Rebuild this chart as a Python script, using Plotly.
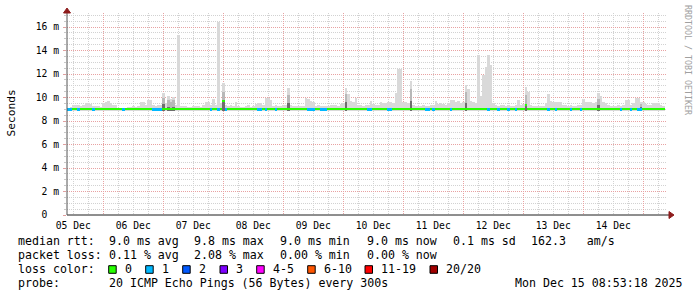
import pandas as pd
import plotly.graph_objects as go

# ---------------- data ----------------
START = "2025-12-05 09:29"          # first hourly step of the graph
STEP_MS = 3600000                    # one RRA step = 1 hour

# top of the smoke (slowest ping) per hourly step, in ms
smoke_max = [
    9.15, 9.2, 9.4, 9.4, 9.35, 9.3, 9.4, 9.5, 9.5, 9.45,
    9.3, 9.3, 9.25, 9.2, 9.5, 9.6, 9.7, 9.5, 9.35, 9.35,
    9.1, 9.15, 9.1, 9.1, 9.2, 9.2, 9.25, 9.2, 9.3, 9.65,
    9.6, 9.4, 9.8, 9.75, 9.35, 9.3, 9.35, 9.4, 10.4, 9.5,
    10.1, 9.9, 10.05, 9.4, 15.3, 9.3, 9.3, 9.25, 9.2, 9.2,
    9.3, 9.25, 9.3, 9.2, 9.35, 9.65, 9.6, 9.4, 9.85, 9.4,
    16.4, 9.5, 11.2, 9.4, 9.3, 9.35, 9.3, 9.6, 9.3, 9.2,
    9.2, 9.3, 9.35, 9.2, 9.3, 9.45, 9.5, 9.55, 9.4, 10.0,
    10.0, 9.8, 9.3, 9.35, 9.3, 9.3, 9.35, 9.4, 10.8, 9.35,
    9.3, 9.3, 9.25, 9.3, 9.3, 10.0, 9.9, 9.7, 9.65, 9.3,
    9.35, 9.3, 9.25, 9.3, 9.3, 9.35, 9.4, 9.35, 9.3, 9.45,
    9.5, 10.8, 10.3, 9.7, 9.6, 10.0, 9.4, 9.35, 9.3, 9.35,
    9.4, 9.7, 9.45, 9.4, 9.4, 9.6, 9.55, 9.5, 9.6, 9.6,
    9.55, 10.4, 12.45, 12.45, 9.6, 9.6, 9.5, 11.45, 9.4, 9.3,
    9.3, 9.3, 9.35, 9.3, 9.3, 9.35, 9.4, 9.7, 9.45, 9.5,
    9.45, 9.4, 9.5, 9.8, 9.8, 9.65, 9.7, 9.5, 9.6, 11.05,
    10.7, 9.7, 9.6, 9.5, 13.6, 10.1, 11.9, 12.6, 13.6, 12.8,
    9.5, 9.35, 9.3, 9.35, 9.4, 9.3, 9.35, 9.3, 9.3, 9.35,
    9.8, 9.4, 9.45, 10.9, 10.5, 9.35, 9.3, 9.3, 9.25, 9.3,
    9.3, 9.5, 10.3, 9.7, 9.65, 9.65, 9.6, 9.6, 9.4, 9.35,
    9.3, 9.35, 9.3, 9.3, 9.35, 9.4, 9.9, 9.65, 9.6, 9.6,
    9.55, 9.6, 10.4, 10.1, 9.6, 9.55, 9.35, 9.3, 9.3, 9.3,
    9.35, 9.3, 9.4, 9.8, 9.75, 9.4, 9.5, 10.0, 9.95, 9.65,
    9.6, 9.45, 9.4, 9.4, 9.5, 9.55, 9.5, 9.35, 9.3,
]

# median rtt per hourly step, in ms
median_rtt = [
    8.98, 8.98, 9.0, 9.05, 8.98, 9.05, 9.05, 9.0, 9.0, 9.0,
    8.98, 9.0, 9.0, 9.0, 9.05, 9.05, 9.0, 9.0, 9.0, 9.0,
    9.0, 9.0, 8.98, 9.0, 9.0, 9.0, 9.0, 9.0, 9.0, 9.05,
    9.05, 9.05, 9.0, 9.0, 8.98, 8.98, 8.98, 8.98, 9.0, 9.0,
    9.0, 9.0, 9.05, 9.05, 9.0, 9.0, 9.05, 9.05, 9.0, 9.0,
    9.0, 9.0, 9.0, 9.0, 9.0, 9.0, 9.05, 8.98, 9.05, 9.0,
    8.98, 9.05, 9.7, 8.98, 9.05, 9.05, 9.0, 9.0, 9.0, 9.0,
    9.0, 9.0, 9.0, 9.0, 9.0, 9.0, 8.98, 8.98, 9.05, 8.98,
    9.05, 9.0, 9.0, 8.98, 9.0, 9.0, 9.0, 9.05, 9.0, 9.0,
    9.0, 9.0, 9.0, 9.05, 9.0, 9.0, 8.98, 8.98, 8.98, 9.0,
    9.0, 8.98, 8.98, 8.98, 9.0, 9.0, 9.0, 9.0, 9.05, 9.0,
    9.0, 9.05, 9.05, 9.0, 9.0, 9.0, 9.0, 9.05, 9.0, 9.0,
    8.98, 8.98, 9.0, 9.0, 9.0, 9.05, 9.05, 9.0, 8.98, 8.98,
    9.0, 9.0, 9.05, 9.05, 9.0, 9.05, 9.0, 9.05, 9.0, 9.0,
    9.0, 9.0, 9.0, 8.98, 8.98, 9.0, 8.98, 9.0, 9.0, 9.0,
    9.0, 9.0, 9.0, 8.98, 9.0, 9.0, 9.0, 9.0, 9.05, 9.05,
    9.05, 9.0, 9.0, 9.0, 9.0, 9.0, 9.05, 9.0, 8.98, 9.0,
    9.0, 9.0, 8.98, 9.0, 9.0, 9.0, 8.98, 9.0, 9.0, 8.98,
    9.0, 9.0, 9.0, 9.35, 9.05, 9.0, 9.0, 9.0, 9.0, 9.0,
    9.0, 9.0, 8.98, 9.0, 9.0, 8.98, 9.0, 9.0, 9.0, 9.0,
    9.0, 8.98, 9.0, 9.0, 9.0, 8.98, 9.0, 9.0, 9.05, 9.05,
    9.0, 9.0, 9.05, 9.05, 9.0, 9.0, 9.0, 9.0, 9.0, 9.0,
    9.0, 8.98, 9.0, 9.05, 9.05, 8.98, 9.0, 9.0, 8.98, 8.98,
    9.0, 9.0, 9.0, 9.05, 9.05, 9.0, 9.0, 9.0, 9.0,
]

SMOKE_MIN = 8.86                     # fastest ping (hidden under the median line)

# steps where one ping in twenty was lost (loss colour "1")
loss1_idx = [0, 1, 4, 10, 22, 34, 35, 36, 37, 57, 60, 63, 76, 77, 79, 83,
             96, 97, 98, 101, 102, 103, 120, 121, 128, 129, 143, 144, 146,
             153, 168, 172, 176, 179, 192, 195, 201, 205, 221, 225, 228, 229]

# steps with denser (darker) smoke: top of medium and of dark layers, ms
dark_idx = [38, 40, 41, 42, 62, 88, 111, 137, 159, 183, 212, 229]
dark_mid = [10.0, 9.8, 9.6, 9.8, 10.5, 10.2, 10.3, 10.7, 10.5, 10.2, 9.9, 9.45]
dark_core = [9.45, 9.2, 9.15, 9.2, 9.75, 9.5, 9.6, 9.7, 9.5, 9.35, 9.35, 9.2]

y_tickvals = [0, 2, 4, 6, 8, 10, 12, 14, 16]
y_ticktext = ["0\u00a0\u00a0", "2 m", "4 m", "6 m", "8 m", "10 m", "12 m", "14 m", "16 m"]

loss_labels = ["0", "1", "2", "3", "4-5", "6-10", "11-19", "20/20"]
loss_colors = ["#26ff00", "#00b8ff", "#0059ff", "#7e00ff", "#ff00ff",
               "#ff5500", "#ff0000", "#a10000"]

rtt_label = "median rtt:"
rtt_stats = ["9.0 ms avg", "9.8 ms max", "9.0 ms min", "9.0 ms now", "0.1 ms sd", "162.3   am/s"]
loss_label = "packet loss:"
loss_stats = ["0.11 % avg", "2.08 % max", "0.00 % min", "0.00 % now"]
probe_text = "20 ICMP Echo Pings (56 Bytes) every 300s"
stamp_text = "Mon Dec 15 08:53:18 2025"
credit_text = "RRDTOOL / TOBI OETIKER"

# ---------------- figure ----------------
n = len(smoke_max)
times = pd.date_range(START, periods=n + 1, freq="h")
t_end = times[0] + pd.Timedelta(hours=240)
centers_all = [t + pd.Timedelta(minutes=30) for t in times[:n]]
loss = [1 if i in loss1_idx else 0 for i in range(n)]

L, T, PW, PH = 67, 13, 600, 202
W, H = 697, 297
MONO = "DejaVu Sans Mono"
LINE_H = 0.2                         # median line thickness in ms (~2.3 px)
SMOKE_LIGHT, SMOKE_MID, SMOKE_DARK = "#d9d9d9", "#b8b8b8", "#6e6e6e"

fig = go.Figure()

# light smoke (min .. max), all layers as bars so they stack in trace order
fig.add_trace(go.Bar(x=centers_all, y=[v - SMOKE_MIN for v in smoke_max], base=SMOKE_MIN,
                     width=STEP_MS, marker=dict(color=SMOKE_LIGHT, line=dict(width=0))))

centers = [centers_all[i] for i in dark_idx]
fig.add_trace(go.Bar(x=centers, y=[v - SMOKE_MIN for v in dark_mid], base=SMOKE_MIN,
                     width=STEP_MS, marker=dict(color=SMOKE_MID, line=dict(width=0))))
fig.add_trace(go.Bar(x=centers, y=[v - SMOKE_MIN for v in dark_core], base=SMOKE_MIN,
                     width=STEP_MS, marker=dict(color=SMOKE_DARK, line=dict(width=0))))

# median line, coloured by loss
fig.add_trace(go.Bar(x=centers_all, y=[LINE_H] * n, base=[m - LINE_H / 2 for m in median_rtt],
                     width=STEP_MS,
                     marker=dict(color=[loss_colors[l] for l in loss], line=dict(width=0))))

GRID_DASH = "1px,1px"
fig.update_layout(
    width=W, height=H, margin=dict(l=L, r=W - L - PW, t=T, b=H - T - PH),
    paper_bgcolor="white", plot_bgcolor="white", showlegend=False,
    barmode="overlay", bargap=0, hovermode=False,
    xaxis=dict(type="date", range=[times[0], t_end], dtick=86400000, tick0="2025-12-05",
               tickformat="%d %b", ticklabelmode="period", showgrid=True,
               gridcolor="#e8a2a2", griddash=GRID_DASH, gridwidth=1,
               minor=dict(dtick=21600000, tick0="2025-12-05", showgrid=True,
                          gridcolor="#d2d2d2", griddash=GRID_DASH),
               showline=False, zeroline=False, ticks="", ticklabelstandoff=3,
               tickfont=dict(family=MONO, size=9.7, color="black")),
    yaxis=dict(range=[0, 17.2], tickmode="array", tickvals=y_tickvals, ticktext=y_ticktext,
               showgrid=True, gridcolor="#e8a2a2", griddash=GRID_DASH, gridwidth=1,
               minor=dict(tickmode="linear", tick0=0, dtick=0.5, showgrid=True,
                          gridcolor="#d2d2d2", griddash=GRID_DASH,
                          ticks="outside", ticklen=2, tickcolor="#c8c8c8"),
               ticks="outside", ticklen=3, tickcolor="#e0a0a0",
               showline=False, zeroline=False, ticklabelstandoff=2,
               tickfont=dict(family=MONO, size=9.7, color="black")),
)

def px(x):
    return (x - L) / PW

def py(y):
    return (T + PH - y) / PH

# axis lines and arrows
AX_COL, ARROW_COL = "#1e1e1e", "#8e1c1c"
fig.add_shape(type="path", xref="paper", yref="paper", xsizemode="pixel", ysizemode="pixel",
              xanchor=0, yanchor=0, path="M 0,0 L 603,0", line=dict(color=AX_COL, width=1))
fig.add_shape(type="path", xref="paper", yref="paper", xsizemode="pixel", ysizemode="pixel",
              xanchor=0, yanchor=0, path="M 602,3.5 L 607,0 L 602,-3.5 Z",
              fillcolor=ARROW_COL, line=dict(color=ARROW_COL, width=1))
fig.add_shape(type="path", xref="paper", yref="paper", xsizemode="pixel", ysizemode="pixel",
              xanchor=0, yanchor=0, path="M 0,0 L 0,203", line=dict(color="#555555", width=1))
fig.add_shape(type="path", xref="paper", yref="paper", xsizemode="pixel", ysizemode="pixel",
              xanchor=0, yanchor=0, path="M -3.5,202 L 3.5,202 L 0,207 Z",
              fillcolor=ARROW_COL, line=dict(color=ARROW_COL, width=1))

def text(x, y, s, size=11.6, color="black", anchor="left", angle=0):
    fig.add_annotation(x=px(x), y=py(y), xref="paper", yref="paper", text=s, showarrow=False,
                       xanchor=anchor, yanchor="middle", borderpad=0, textangle=angle,
                       font=dict(family=MONO, size=size, color=color))

text(11, 113.5, "Seconds", size=11.2, anchor="center", angle=-90)
text(688, 60, credit_text, size=8.3, color="#a0a0a0", anchor="center", angle=90)

COLS = [107.7, 193.3, 279.3, 365.7, 451.5, 530.0]
ROWS = [241.0, 255.0, 269.2, 283.3]
text(16.7, ROWS[0], rtt_label)
for x, s in zip(COLS, rtt_stats):
    text(x, ROWS[0], s.replace(" ", "\u00a0"))
text(16.7, ROWS[1], loss_label)
for x, s in zip(COLS, loss_stats):
    text(x, ROWS[1], s)
text(16.7, ROWS[2], "loss color:")
BOX_X = [108.7, 145.7, 182.7, 220.0, 256.7, 307.7, 365.0, 430.0]
for bx, lab, col in zip(BOX_X, loss_labels, loss_colors):
    fig.add_shape(type="rect", xref="paper", yref="paper",
                  x0=px(bx), x1=px(bx + 7.5), y0=py(273.3), y1=py(265.7),
                  fillcolor=col, line=dict(color="black", width=1))
    text(bx + 15, ROWS[2], lab)
text(16.7, ROWS[3], "probe:")
text(107.7, ROWS[3], probe_text)
text(514.3, ROWS[3], stamp_text)

fig.write_html("out.html")
